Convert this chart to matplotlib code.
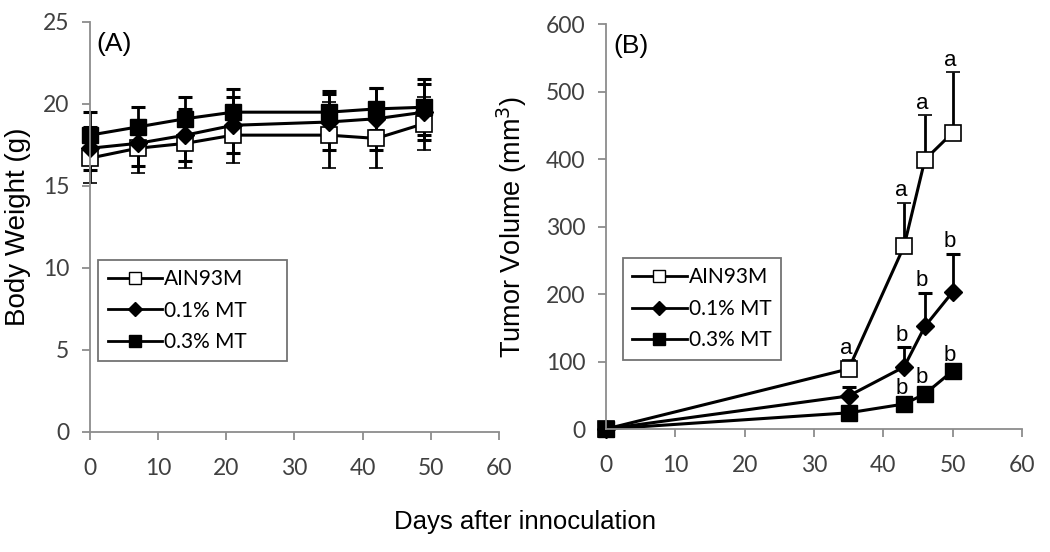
import matplotlib
matplotlib.use("Agg")
import matplotlib.pyplot as plt
from matplotlib.lines import Line2D

plt.rcParams['font.family'] = ['Liberation Sans', 'DejaVu Sans']

# panel A: body weight
days_a = [0, 7, 14, 21, 35, 42, 49]
ain_bw = [16.7, 17.3, 17.6, 18.1, 18.1, 17.9, 18.8]
mt01_bw = [17.3, 17.6, 18.1, 18.7, 18.9, 19.1, 19.5]
mt03_bw = [18.1, 18.6, 19.1, 19.5, 19.5, 19.7, 19.8]
ain_bw_sd = [1.5, 1.5, 1.5, 1.7, 2.0, 1.8, 1.6]
mt01_bw_sd = [1.3, 1.4, 1.6, 1.7, 1.7, 1.9, 1.7]
mt03_bw_sd = [1.4, 1.2, 1.3, 1.4, 1.3, 1.3, 1.7]

# panel B: tumor volume
days_b = [0, 35, 43, 46, 50]
ain_tv = [0, 89, 271, 399, 439]
mt01_tv = [0, 49, 92, 152, 203]
mt03_tv = [0, 24, 37, 52, 86]
ain_tv_err = [0, 13, 64, 66, 90]
mt01_tv_err = [0, 13, 29, 50, 57]
mt03_tv_err = [0, 4, 6, 6, 6]
ain_sig = ['', 'a', 'a', 'a', 'a']
mt01_sig = ['', '', 'b', 'b', 'b']
mt03_sig = ['', '', 'b', 'b', 'b']

labels = ['AIN93M', '0.1% MT', '0.3% MT']

fig = plt.figure(figsize=(10.5, 5.52), dpi=100)
axA = fig.add_axes([0.0857, 0.2174, 0.3895, 0.7428])
axB = fig.add_axes([0.5771, 0.2228, 0.3962, 0.7337])

styles = [dict(marker='s', mfc='white', mec='black', ms=12, mew=1.2),
          dict(marker='D', mfc='black', mec='black', ms=9.5),
          dict(marker='s', mfc='black', mec='black', ms=12)]
leg_styles = [dict(marker='s', mfc='white', mec='black', ms=9, mew=1),
              dict(marker='D', mfc='black', mec='black', ms=7),
              dict(marker='s', mfc='black', mec='black', ms=9)]
handles = [Line2D([], [], color='black', lw=2, **st) for st in leg_styles]

tick_font = ['Lato', 'DejaVu Sans']

# panel A
for y, sd, st, lab in zip([ain_bw, mt01_bw, mt03_bw], [ain_bw_sd, mt01_bw_sd, mt03_bw_sd], styles, labels):
    c = axA.errorbar(days_a, y, yerr=sd, color='black', lw=2.2, elinewidth=2,
                     capsize=5, capthick=2.2, label=lab, **st)
    for art in [c[0], *c[1], *c[2]]:
        art.set_clip_on(False)
axA.set_ylim(0, 25)
axA.set_yticks(range(0, 26, 5))
axA.set_ylabel('Body Weight (g)', fontsize=20)
axA.yaxis.set_label_coords(-0.145, 0.5)
axA.text(0.015, 0.975, '(A)', transform=axA.transAxes, fontsize=19, va='top')
axA.legend(handles, labels, loc='upper left', bbox_to_anchor=(0.02, 0.0, 0.462, 0.42),
           mode='expand', borderaxespad=0,
           prop={'family': tick_font, 'size': 15}, frameon=True, fancybox=False,
           edgecolor='#505050', handlelength=2.6, handletextpad=0.1,
           labelspacing=0.55, borderpad=0.45)

# panel B
for y, err, sig, st, lab in zip([ain_tv, mt01_tv, mt03_tv], [ain_tv_err, mt01_tv_err, mt03_tv_err],
                                [ain_sig, mt01_sig, mt03_sig], styles, labels):
    c = axB.errorbar(days_b, y, yerr=[[0] * len(err), err], color='black', lw=2.2,
                     elinewidth=2, capsize=5, capthick=2.2, label=lab, **st)
    for art in [c[0], *c[1], *c[2]]:
        art.set_clip_on(False)
    for d, v, e, s in zip(days_b, y, err, sig):
        if s:
            axB.annotate(s, (d, v + e), xytext=(-2, 1), textcoords='offset points',
                         ha='center', va='bottom', fontsize=16)
axB.set_ylim(0, 600)
axB.set_yticks(range(0, 601, 100))
axB.set_ylabel('Tumor Volume (mm$^3$)', fontsize=19.5)
axB.yaxis.set_label_coords(-0.185, 0.5)
axB.text(0.017, 0.975, '(B)', transform=axB.transAxes, fontsize=19, va='top')
axB.legend(handles, labels, loc='upper left', bbox_to_anchor=(0.041, 0.422), borderaxespad=0,
           prop={'family': tick_font, 'size': 15}, frameon=True, fancybox=False,
           edgecolor='#505050', handlelength=2.6, handletextpad=0.1,
           labelspacing=0.55, borderpad=0.45)

for ax in (axA, axB):
    ax.set_xlim(0, 60)
    ax.set_xticks(range(0, 61, 10))
    for s in ('top', 'right'):
        ax.spines[s].set_visible(False)
    for s in ('left', 'bottom'):
        ax.spines[s].set_color('#8c8c8c')
        ax.spines[s].set_linewidth(1.3)
    ax.tick_params(colors='#8c8c8c', labelcolor='#404040',
                   length=6, width=1.3, direction='out')
    ax.tick_params(axis='x', pad=13)
    ax.tick_params(axis='y', pad=9)
    plt.setp(ax.get_xticklabels() + ax.get_yticklabels(), family=tick_font, fontsize=16.5)
    ax.get_legend().get_frame().set_linewidth(1.3)

fig.text(0.5, 0.054, 'Days after innoculation', ha='center', va='center', fontsize=18.5)

fig.savefig('out.png', dpi=100)
